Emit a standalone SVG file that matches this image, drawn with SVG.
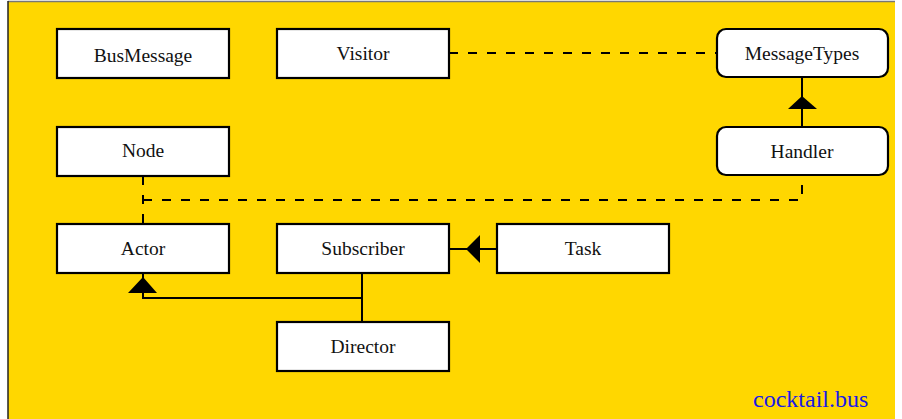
<svg xmlns="http://www.w3.org/2000/svg" width="902" height="419" viewBox="0 0 902 419">
  <defs>
    <style>
      .box { fill: #ffffff; stroke: #000000; stroke-width: 2.2; }
      .label { font-family: "Liberation Serif", "Times New Roman", serif; font-size: 19.5px; fill: #111111; text-anchor: middle; }
      .solid { fill: none; stroke: #000000; stroke-width: 2; }
      .dashed { fill: none; stroke: #000000; stroke-width: 2; stroke-dasharray: 9 10; }
      .head { fill: #000000; stroke: none; }
      .brand { font-family: "Liberation Serif", "Times New Roman", serif; font-size: 24px; fill: #1a1ae6; }
    </style>
  </defs>

  <!-- page background -->
  <rect x="0" y="0" width="902" height="419" fill="#ffffff"/>
  <rect x="8" y="1" width="887" height="419" fill="#ffd700"/>
  <path d="M8,1.5 H895" stroke="#777777" stroke-width="1.5" fill="none"/>
  <path d="M8,1 V419" stroke="#222222" stroke-width="1.5" fill="none"/>

  <!-- connectors -->
  <g id="connectors">
    <!-- Visitor - MessageTypes -->
    <path class="dashed" d="M449,53 H717"/>
    <!-- Handler -> MessageTypes (generalisation) -->
    <path class="solid" d="M802,127 V77"/>
    <polygon class="head" points="802,96 788,109 817,109"/>
    <!-- Node - Actor -->
    <path class="dashed" d="M143,176 V224"/>
    <!-- Actor - Handler -->
    <path class="dashed" d="M143,200 H802 V175"/>
    <!-- Task -> Subscriber (generalisation) -->
    <path class="solid" d="M497,249 H449"/>
    <polygon class="head" points="466,249 480,235 480,263"/>
    <!-- Subscriber / Director -> Actor (generalisation) -->
    <path class="solid" d="M362,273 V322"/>
    <path class="solid" d="M362,298 H143 V273"/>
    <polygon class="head" points="143,277 128,293 157,293"/>
  </g>

  <!-- nodes -->
  <g id="BusMessage">
    <rect class="box" x="57" y="29" width="172" height="49"/>
    <text class="label" x="143" y="62">BusMessage</text>
  </g>
  <g id="Visitor">
    <rect class="box" x="277" y="29" width="172" height="49"/>
    <text class="label" x="363" y="60">Visitor</text>
  </g>
  <g id="MessageTypes">
    <rect class="box" x="717" y="29" width="171" height="48" rx="9" ry="9"/>
    <text class="label" x="802" y="60">MessageTypes</text>
  </g>
  <g id="Node">
    <rect class="box" x="57" y="127" width="172" height="49"/>
    <text class="label" x="143" y="157">Node</text>
  </g>
  <g id="Handler">
    <rect class="box" x="717" y="127" width="171" height="48" rx="9" ry="9"/>
    <text class="label" x="802" y="158">Handler</text>
  </g>
  <g id="Actor">
    <rect class="box" x="57" y="224" width="172" height="49"/>
    <text class="label" x="143" y="255">Actor</text>
  </g>
  <g id="Subscriber">
    <rect class="box" x="277" y="224" width="172" height="49"/>
    <text class="label" x="363" y="255">Subscriber</text>
  </g>
  <g id="Task">
    <rect class="box" x="497" y="224" width="172" height="49"/>
    <text class="label" x="583" y="255">Task</text>
  </g>
  <g id="Director">
    <rect class="box" x="277" y="322" width="172" height="49"/>
    <text class="label" x="363" y="353">Director</text>
  </g>

  <text class="brand" x="753" y="407">cocktail.bus</text>
</svg>
